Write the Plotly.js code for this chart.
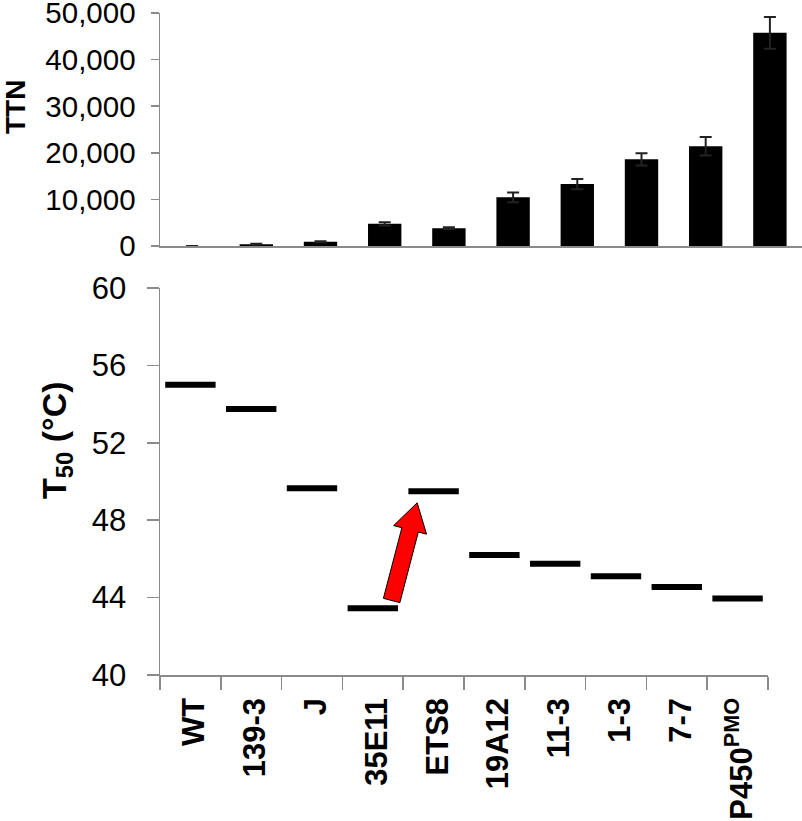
<!DOCTYPE html>
<html>
<head>
<meta charset="utf-8">
<script src="https://cdn.plot.ly/plotly-3.0.1.min.js"></script>
<style>html,body{margin:0;padding:0;background:#fff}</style>
</head>
<body>
<div id="t50Plot" style="width:802px;height:821px"></div>
<script>
// variants, in the order of the figure
const variants = ['WT', '139-3', 'J', '35E11', 'ETS8', '19A12', '11-3', '1-3', '7-7', 'P450<sup>PMO</sup>'];
// total turnover numbers and their error (none shown for WT)
const ttn = [0, 400, 900, 4750, 3830, 10450, 13300, 18600, 21400, 45750];
const ttnErr = [null, 100, 100, 350, 200, 1050, 1100, 1300, 2000, 3400];
// T50 values (°C)
const t50 = [55.0, 53.75, 49.65, 43.45, 49.5, 46.2, 45.75, 45.1, 44.55, 43.95];

// red arrow 35E11 -> ETS8, ends given in bottom axis units (category index, T50)
const arrowTail = [3.31, 43.85];
const arrowTip = [3.73, 48.9];

const W = 802, H = 821;
const margin = {l: 160, r: 0, t: 13, b: 146};
const plotW = W - margin.l - margin.r;
const plotH = H - margin.t - margin.b;
const topDomain = [(675 - 246) / plotH, 1];
const botDomain = [0, (675 - 288) / plotH];
const botXDomain = [0, 0.947];
const t50Range = [40, 60];
const catRange = [-0.5, variants.length - 0.5];
const axisGrey = '#8a8a8a';

// pixel -> paper helpers, used for the titles and the arrow
const paperX = px => (px - margin.l) / plotW;
const paperY = py => (margin.t + plotH - py) / plotH;

// pixel position of a point on the bottom panel
function toPx(pt) {
  const xStart = margin.l + plotW * botXDomain[0];
  const xLen = plotW * (botXDomain[1] - botXDomain[0]);
  const px = xStart + xLen * (pt[0] + 0.5) / variants.length;
  const yBot = margin.t + plotH * (1 - botDomain[0]);
  const yLen = plotH * (botDomain[1] - botDomain[0]);
  const py = yBot - yLen * (pt[1] - t50Range[0]) / (t50Range[1] - t50Range[0]);
  return [px, py];
}

function arrowPath(tail, tip) {
  const a = toPx(tail), b = toPx(tip);
  const dx = b[0] - a[0], dy = b[1] - a[1];
  const len = Math.hypot(dx, dy);
  const ux = dx / len, uy = dy / len;
  const nx = -uy, ny = ux;
  const shaft = 8.5, head = 17, headLen = 28;
  const nk = [b[0] - ux * headLen, b[1] - uy * headLen];
  const pts = [
    [a[0] + nx * shaft, a[1] + ny * shaft],
    [nk[0] + nx * shaft, nk[1] + ny * shaft],
    [nk[0] + nx * head, nk[1] + ny * head],
    b,
    [nk[0] - nx * head, nk[1] - ny * head],
    [nk[0] - nx * shaft, nk[1] - ny * shaft],
    [a[0] - nx * shaft, a[1] - ny * shaft]
  ];
  return pts.map((p, i) => (i ? 'L' : 'M') +
    paperX(p[0]).toFixed(5) + ',' + paperY(p[1]).toFixed(5)).join(' ') + ' Z';
}

const barTrace = {
  type: 'bar',
  x: variants,
  y: ttn,
  xaxis: 'x',
  yaxis: 'y',
  width: 0.52,
  marker: {color: '#000', line: {width: 0}},
  error_y: {type: 'data', array: ttnErr, visible: true, color: '#222', thickness: 2, width: 6}
};

const dashTrace = {
  type: 'scatter',
  mode: 'markers',
  x: variants,
  y: t50,
  xaxis: 'x2',
  yaxis: 'y2',
  marker: {symbol: 'line-ew', size: 36, color: '#000', line: {color: '#000', width: 6}}
};

const layout = {
  width: W,
  height: H,
  margin: margin,
  showlegend: false,
  paper_bgcolor: '#fff',
  plot_bgcolor: '#fff',
  font: {family: 'Liberation Sans, Arial, sans-serif', color: '#000'},
  xaxis: {
    type: 'category',
    domain: [0, 1],
    range: catRange,
    anchor: 'y',
    automargin: false,
    showticklabels: false,
    ticks: '',
    showline: true,
    linecolor: axisGrey,
    linewidth: 1.5,
    showgrid: false
  },
  yaxis: {
    domain: topDomain,
    anchor: 'x',
    automargin: false,
    range: [0, 50000],
    dtick: 10000,
    tickformat: ',',
    ticks: 'outside',
    ticklen: 8,
    tickcolor: axisGrey,
    tickwidth: 1.5,
    ticklabelstandoff: 9,
    ticklabeloverflow: 'allow',
    showline: true,
    linecolor: axisGrey,
    linewidth: 1.5,
    showgrid: false,
    zeroline: false,
    tickfont: {size: 29.5}
  },
  xaxis2: {
    type: 'category',
    domain: botXDomain,
    range: catRange,
    anchor: 'y2',
    automargin: false,
    ticks: 'outside',
    tickson: 'boundaries',
    ticklen: 13,
    tickcolor: axisGrey,
    tickwidth: 1.5,
    ticklabelstandoff: 9,
    ticklabelshift: 4,
    ticklabeloverflow: 'allow',
    showline: true,
    linecolor: axisGrey,
    linewidth: 1.5,
    showgrid: false,
    tickangle: -90,
    tickfont: {size: 31, weight: 'bold'}
  },
  yaxis2: {
    domain: botDomain,
    anchor: 'x2',
    automargin: false,
    range: t50Range,
    dtick: 4,
    ticks: 'outside',
    ticklen: 12,
    tickcolor: axisGrey,
    tickwidth: 1.5,
    ticklabelstandoff: 14,
    showline: true,
    linecolor: axisGrey,
    linewidth: 1.5,
    showgrid: false,
    zeroline: false,
    tickfont: {size: 31}
  },
  // axis titles sit above the panel centres in the original, so they are placed as annotations
  annotations: [
    {
      text: 'TTN', textangle: -90, showarrow: false,
      xref: 'paper', yref: 'paper', x: paperX(15), y: paperY(107),
      xanchor: 'center', yanchor: 'middle',
      font: {size: 28, weight: 'bold'}
    },
    {
      text: 'T<sub>50</sub> (°C)', textangle: -90, showarrow: false,
      xref: 'paper', yref: 'paper', x: paperX(56), y: paperY(440),
      xanchor: 'center', yanchor: 'middle',
      font: {size: 34, weight: 'bold'}
    }
  ],
  shapes: [{
    type: 'path',
    xref: 'paper',
    yref: 'paper',
    path: arrowPath(arrowTail, arrowTip),
    fillcolor: '#ff0000',
    line: {color: '#000', width: 1}
  }]
};

Plotly.newPlot('t50Plot', [barTrace, dashTrace], layout, {staticPlot: true});
</script>
</body>
</html>
